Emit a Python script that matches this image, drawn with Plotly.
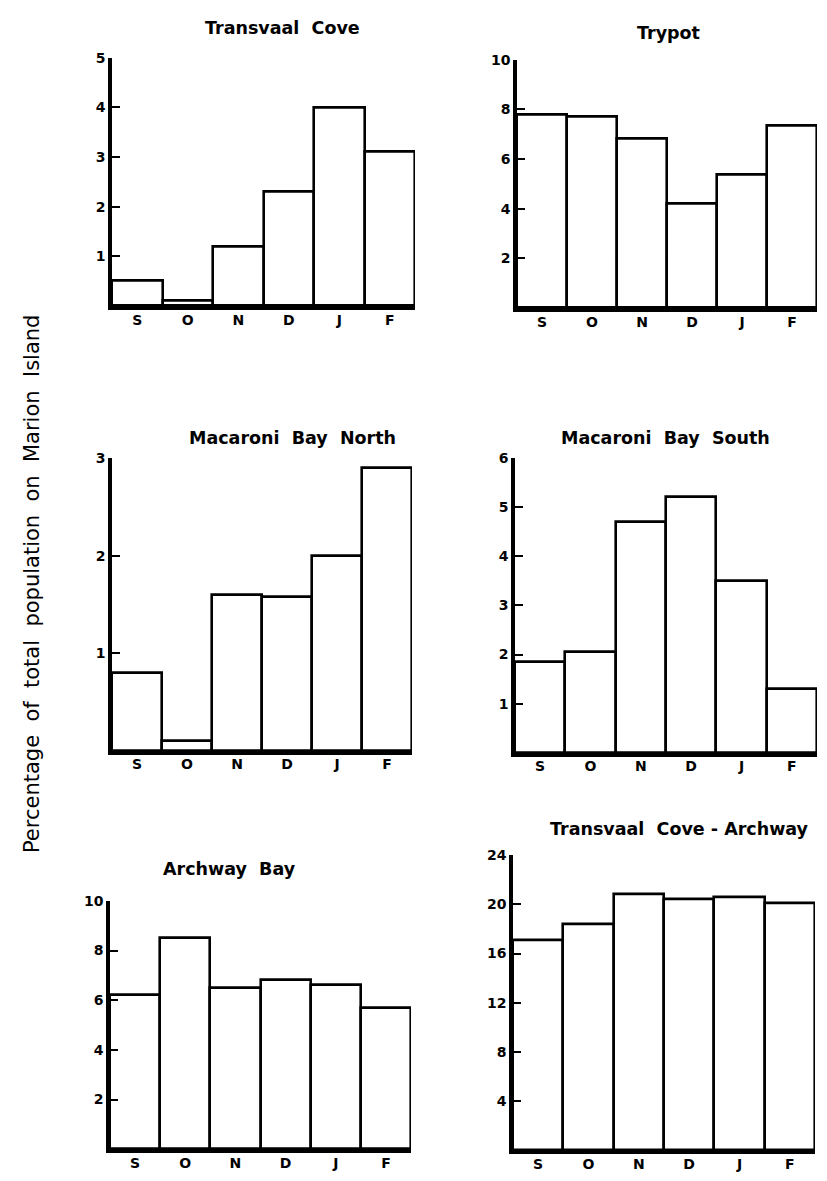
import plotly.graph_objects as go

# ---- data ----
months = ["S", "O", "N", "D", "J", "F"]
transvaal_cove = [0.5, 0.1, 1.2, 2.3, 4.0, 3.1]
trypot = [7.8, 7.7, 6.8, 4.2, 5.35, 7.35]
macaroni_north = [0.8, 0.1, 1.6, 1.58, 2.0, 2.9]
macaroni_south = [1.85, 2.05, 4.7, 5.2, 3.5, 1.3]
archway_bay = [6.2, 8.5, 6.5, 6.8, 6.6, 5.7]
transvaal_archway = [17.1, 18.4, 20.8, 20.4, 20.6, 20.1]

titles = ["Transvaal  Cove", "Trypot", "Macaroni  Bay  North",
          "Macaroni  Bay  South", "Archway  Bay", "Transvaal  Cove - Archway"]
y_max = [5, 10, 3, 6, 10, 24]
y_ticks = [[1, 2, 3, 4, 5], [2, 4, 6, 8, 10], [1, 2, 3],
           [1, 2, 3, 4, 5, 6], [2, 4, 6, 8, 10], [4, 8, 12, 16, 20, 24]]
series = [transvaal_cove, trypot, macaroni_north, macaroni_south,
          archway_bay, transvaal_archway]
y_label = "Percentage  of  total  population  on  Marion  Island"

# ---- layout (pixel geometry) ----
W, H = 827, 1181
# x0, x1, y_top(at y_max), y_bottom(at 0)
panels = [(112, 415, 50, 300), (517, 817, 52, 302), (112, 412, 453, 748),
          (515, 817, 453, 750), (110, 411, 899, 1149), (513, 815, 853, 1150)]
title_pos = [(282, 20), (668, 25), (292, 433), (665, 433), (230, 867), (679, 827)]

fig = go.Figure()
layout = dict(width=W, height=H, margin=dict(l=0, r=0, t=0, b=0),
              paper_bgcolor="white", plot_bgcolor="white", showlegend=False,
              bargap=0)

tick_font = dict(family="DejaVu Sans", size=14, color="black", weight="bold")
annotations = []
for i, (vals, (x0, x1, yt, yb)) in enumerate(zip(series, panels)):
    n = i + 1
    xa = "x" if n == 1 else f"x{n}"
    ya = "y" if n == 1 else f"y{n}"
    fig.add_trace(go.Bar(x=months, y=vals, xaxis=xa, yaxis=ya, width=1,
                         marker=dict(color="white",
                                     line=dict(color="black", width=2.6))))
    layout["xaxis" if n == 1 else f"xaxis{n}"] = dict(
        domain=[x0 / W, x1 / W], anchor=ya, range=[-0.5, 5.5],
        showline=True, linewidth=3.5, linecolor="black", ticks="",
        showgrid=False, zeroline=False, tickfont=tick_font,
        ticklabelstandoff=-2, fixedrange=True)
    layout["yaxis" if n == 1 else f"yaxis{n}"] = dict(
        domain=[1 - yb / H, 1 - yt / H], anchor=xa, range=[0, y_max[i]],
        tickvals=y_ticks[i], ticktext=[str(v) for v in y_ticks[i]],
        showline=True, linewidth=3.5, linecolor="black",
        ticks="inside", ticklen=8, tickwidth=2, tickcolor="black",
        showgrid=False, zeroline=False, tickfont=tick_font,
        ticklabelstandoff=0, fixedrange=True)
    tx, ty = title_pos[i]
    annotations.append(dict(text=titles[i], x=tx / W, y=1 - ty / H,
                            xref="paper", yref="paper", showarrow=False,
                            xanchor="center", yanchor="middle",
                            font=dict(family="DejaVu Sans", size=17.5,
                                      color="black", weight="bold")))

annotations.append(dict(text=y_label, x=32 / W, y=1 - 580 / H,
                        xref="paper", yref="paper", showarrow=False,
                        textangle=-90, xanchor="center", yanchor="middle",
                        font=dict(family="DejaVu Sans", size=21,
                                  color="black")))
layout["annotations"] = annotations
fig.update_layout(**layout)
fig.write_html("out.html")
